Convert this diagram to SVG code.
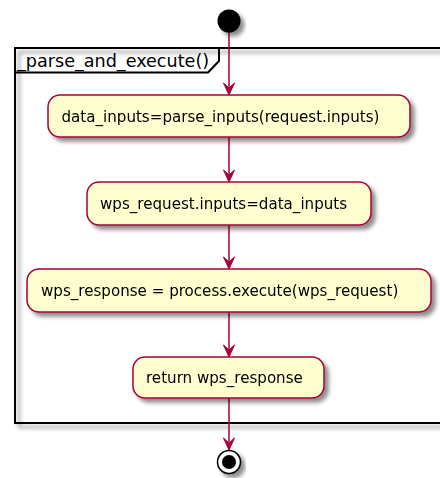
<svg xmlns="http://www.w3.org/2000/svg" width="440" height="478" viewBox="0 0 440 478">
  <defs>
    <filter id="shadow" x="-20%" y="-20%" width="140%" height="160%">
      <feGaussianBlur in="SourceAlpha" stdDeviation="2"/>
      <feOffset dx="4" dy="4" result="blur"/>
      <feComponentTransfer><feFuncA type="linear" slope="0.45"/></feComponentTransfer>
      <feMerge><feMergeNode/><feMergeNode in="SourceGraphic"/></feMerge>
    </filter>
    <marker id="arrow" markerWidth="12" markerHeight="14" refX="5.5" refY="13" orient="0" markerUnits="userSpaceOnUse" viewBox="0 0 11 14">
      <polygon points="0,1 5.5,13 11,1 5.5,6" fill="#A80036" stroke="#A80036" stroke-width="1"/>
    </marker>
  </defs>
  <style>
    .action rect { fill: #FEFECE; stroke: #A80036; stroke-width: 1.5; }
    .action text { font-family: "DejaVu Sans", sans-serif; font-size: 15.1px; fill: #000; }
    .edge { stroke: #A80036; stroke-width: 1.5; fill: none; marker-end: url(#arrow); }
    .frame { fill: none; stroke: #000; stroke-width: 2; }
    .title { font-family: "DejaVu Sans", sans-serif; font-size: 17.6px; fill: #000; }
  </style>

  <!-- group frame -->
  <g id="group-parse-and-execute">
    <rect x="15" y="48" width="440" height="375" fill="none" stroke="#000" stroke-width="2" filter="url(#shadow)"/>
    <path class="frame" d="M15,72.5 H208 L219,61 V48"/>
    <text class="title" x="17" y="67">_parse_and_execute()</text>
  </g>

  <!-- connectors -->
  <g id="connectors">
    <line class="edge" x1="229" y1="32" x2="229" y2="95"/>
    <line class="edge" x1="229" y1="137" x2="229" y2="182"/>
    <line class="edge" x1="229" y1="225" x2="229" y2="269"/>
    <line class="edge" x1="229" y1="312" x2="229" y2="357"/>
    <line class="edge" x1="229" y1="398" x2="229" y2="450"/>
  </g>

  <g id="start" filter="url(#shadow)">
    <circle cx="229" cy="21" r="11.5" fill="#000"/>
  </g>

  <g id="action-parse-inputs" class="action" filter="url(#shadow)">
    <rect x="48" y="95" width="362" height="42" rx="12" ry="12"/>
    <text x="61.5" y="121.5">data_inputs=parse_inputs(request.inputs)</text>
  </g>

  <g id="action-assign-inputs" class="action" filter="url(#shadow)">
    <rect x="87" y="182" width="284" height="43" rx="12" ry="12"/>
    <text x="100" y="208.5">wps_request.inputs=data_inputs</text>
  </g>

  <g id="action-execute" class="action" filter="url(#shadow)">
    <rect x="27" y="269" width="404" height="43" rx="12" ry="12"/>
    <text x="41" y="295.5">wps_response = process.execute(wps_request)</text>
  </g>

  <g id="action-return" class="action" filter="url(#shadow)">
    <rect x="133" y="357" width="191" height="41" rx="12" ry="12"/>
    <text x="146" y="382.5">return wps_response</text>
  </g>

  <g id="stop" filter="url(#shadow)">
    <circle cx="229" cy="462" r="11.5" fill="#fff" stroke="#000" stroke-width="1.5"/>
    <circle cx="229" cy="462" r="7" fill="#000"/>
  </g>
</svg>
